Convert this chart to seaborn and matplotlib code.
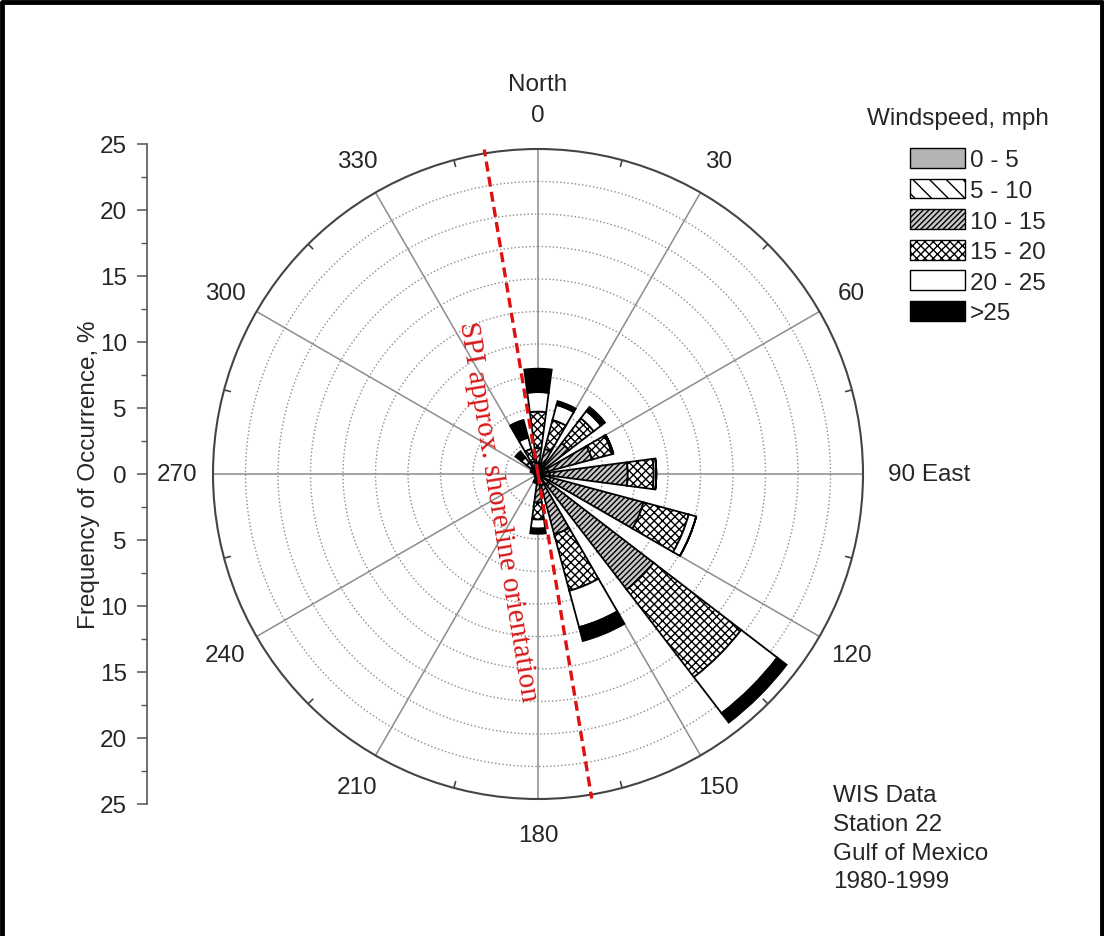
import numpy as np
import matplotlib
matplotlib.use("Agg")
import matplotlib.pyplot as plt
from matplotlib.patches import Patch
from matplotlib.lines import Line2D
from matplotlib.ticker import MultipleLocator, FuncFormatter
import seaborn as sns

# wind directions, degrees clockwise from north
directions = [0, 22.5, 45, 67.5, 90, 112.5, 135, 157.5,
              180, 202.5, 225, 247.5, 270, 292.5, 315, 337.5]

# frequency of occurrence (%) for each windspeed class, per direction
freq_0_5 = [0.2, 0.2, 0.2, 0.2, 0.2, 0.2, 0.2, 0.2, 0.1, 0.1, 0.1, 0.1, 0.1, 0.1, 0.1, 0.1]
freq_5_10 = [0.6, 0.5, 0.5, 0.6, 0.7, 0.8, 0.8, 0.7, 0.5, 0.2, 0.1, 0.1, 0.1, 0.1, 0.2, 0.3]
freq_10_15 = [1.2, 1.3, 2.3, 3.5, 6.0, 7.4, 10.2, 3.9, 1.6, 0.2, 0.1, 0.0, 0.0, 0.1, 0.4, 0.6]
freq_15_20 = [2.8, 2.3, 2.4, 1.6, 2.0, 3.6, 8.5, 4.5, 1.3, 0.1, 0.0, 0.0, 0.0, 0.1, 0.4, 1.0]
freq_20_25 = [1.5, 1.2, 0.7, 0.1, 0.2, 0.6, 3.5, 2.9, 0.7, 0.1, 0.0, 0.0, 0.1, 0.1, 0.5, 0.9]
freq_over_25 = [1.8, 0.3, 0.4, 0.0, 0.0, 0.0, 0.9, 1.1, 0.4, 0.0, 0.0, 0.0, 0.0, 0.1, 0.6, 1.4]

speed_labels = ["0 - 5", "5 - 10", "10 - 15", "15 - 20", "20 - 25", ">25"]
angle_ticks = [0, 30, 60, 90, 120, 150, 180, 210, 240, 270, 300, 330]
angle_labels = ["0", "30", "60", "90 East", "120", "150", "180", "210", "240", "270", "300", "330"]
station_info = ["WIS Data", "Station 22", "Gulf of Mexico", "1980-1999"]
shoreline_bearing = 350.6  # approx SPI shoreline orientation

series = [freq_0_5, freq_5_10, freq_10_15, freq_15_20, freq_20_25, freq_over_25]
face_colors = ["#b4b4b4", "white", "#c8c8c8", "white", "white", "black"]
hatches = ["", "\\\\", "//////", "xxxx", "", ""]

sns.set_theme(style="white")
plt.rcParams["font.family"] = ["Liberation Sans", "DejaVu Sans"]
plt.rcParams["hatch.linewidth"] = 1.0
plt.rcParams["hatch.color"] = "#222222"

FS = 17.5
W, H = 1104, 937
cx, cy, R = 538, 475, 325
fig = plt.figure(figsize=(W / 100, H / 100), dpi=100)
fig.patch.set_facecolor("white")

ax = fig.add_axes([(cx - R) / W, 1 - (cy + R) / H, 2 * R / W, 2 * R / H], projection="polar")
ax.set_theta_zero_location("N")
ax.set_theta_direction(-1)
ax.set_ylim(0, 25)

# grid
ax.set_thetagrids(angle_ticks, labels=[])
ax.set_rgrids(np.arange(2.5, 25, 2.5), labels=[])
ax.xaxis.grid(True, color="#8c8c8c", lw=1.1, ls="-")
ax.yaxis.grid(True, color="#8c8c8c", lw=1.0, ls=":")
ax.spines["polar"].set_color("#444444")
ax.spines["polar"].set_linewidth(1.5)
ax.tick_params(length=0)
for a in range(15, 360, 30):
    ax.plot([np.deg2rad(a)] * 2, [24.5, 25], color="#444444", lw=1.2)

# stacked wind rose bars
theta = np.deg2rad(directions)
width = np.deg2rad(15)
bottom = np.zeros(len(directions))
for vals, fc, hatch in zip(series, face_colors, hatches):
    vals = np.array(vals)
    ax.bar(theta, vals, width=width, bottom=bottom, color=fc, edgecolor="black",
           linewidth=1.3, hatch=hatch, zorder=3)
    bottom += vals

# theta labels
for a, lab in zip(angle_ticks, angle_labels):
    if a == 90:
        ax.text(np.deg2rad(a), 26.9, lab, ha="left", va="center", fontsize=FS)
    else:
        r = 27.6 if a == 0 else 27.8
        ax.text(np.deg2rad(a), r, lab, ha="center", va="center", fontsize=FS)
ax.text(0, 30.0, "North", ha="center", va="center", fontsize=FS)

# shoreline line
t1 = np.deg2rad(shoreline_bearing)
t2 = np.deg2rad(shoreline_bearing - 180)
for t in (t1, t2):
    ax.plot([t, t], [0, 25.3], color="#e01010", ls=(0, (3, 1.6)), lw=2.4, zorder=6, clip_on=False)
fig.text(498 / W, 1 - 512 / H, "SPI approx. shoreline orientation", rotation=-80.7,
         rotation_mode="anchor", ha="center", va="center", color="#d81818",
         fontsize=21, family="Liberation Serif")

# left frequency axis
ax2 = fig.add_axes([147 / W, 1 - (cy + 330) / H, 0.0005, 660 / H])
ax2.set_ylim(-25, 25)
ax2.yaxis.set_major_locator(MultipleLocator(5))
ax2.yaxis.set_minor_locator(MultipleLocator(2.5))
ax2.yaxis.set_major_formatter(FuncFormatter(lambda v, _: f"{abs(v):g}"))
ax2.set_xticks([])
sns.despine(ax=ax2, left=False, bottom=True)
ax2.spines["left"].set_color("#555555")
ax2.spines["left"].set_linewidth(1.2)
ax2.tick_params(axis="y", which="major", direction="out", length=7.5, width=1.1,
                color="#555555", labelsize=FS, pad=7, left=True)
ax2.tick_params(axis="y", which="minor", direction="out", length=4.5, width=1.0,
                color="#555555", left=True)
ax2.set_ylabel("Frequency of Occurrence, %", fontsize=FS, labelpad=0)

# legend
fig.text(867 / W, 1 - 119 / H, "Windspeed, mph", ha="left", va="center", fontsize=FS)
handles = [Patch(facecolor=fc, edgecolor="black", hatch=h, label=lab)
           for fc, h, lab in zip(face_colors, hatches, speed_labels)]
fig.legend(handles=handles, loc="upper left",
           bbox_to_anchor=(910 / W, 1 - 149 / H), frameon=False, fontsize=FS,
           handlelength=2.25, handleheight=0.88,
           handletextpad=0.2, labelspacing=0.3, borderpad=0, borderaxespad=0)

fig.text(833 / W, 1 - 785 / H, "\n".join(station_info), ha="left", va="top",
         fontsize=FS, linespacing=1.4)

# frame around the figure
fig.add_artist(Line2D([0.002, 0.002, 0.998, 0.998], [0, 0.997, 0.997, 0],
                      transform=fig.transFigure, color="black", lw=3.5))

fig.savefig("out.png", dpi=100)
